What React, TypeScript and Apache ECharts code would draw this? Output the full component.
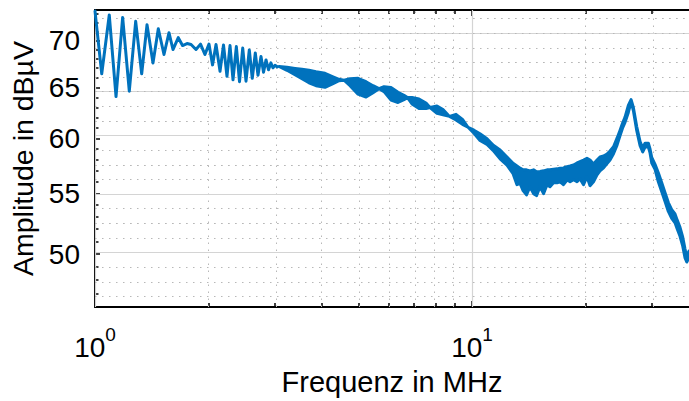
import React, { useEffect, useRef } from "react";
import * as echarts from "echarts";

// ---- data (frequency in MHz, amplitude in dBµV) ----
const lowFreq = [1.0, 1.042, 1.091, 1.137, 1.184, 1.233, 1.282, 1.33, 1.374, 1.425, 1.472, 1.524, 1.571, 1.61, 1.663, 1.707, 1.754, 1.798, 1.853, 1.905, 1.957, 2.006, 2.05, 2.094, 2.146, 2.192, 2.239, 2.281, 2.323, 2.371, 2.417, 2.465, 2.515, 2.566, 2.613, 2.662, 2.706, 2.756, 2.799, 2.842, 2.886, 2.927, 2.966, 3.002, 3.045];
const lowAmp = [73.3, 66.41, 72.86, 64.07, 72.58, 64.62, 72.13, 66.41, 71.74, 67.56, 71.29, 68.46, 70.85, 69.0, 70.3, 69.43, 69.65, 69.54, 69.0, 69.59, 68.46, 69.59, 67.35, 69.54, 66.67, 69.49, 66.15, 69.43, 65.79, 69.32, 65.59, 69.16, 65.64, 68.95, 65.94, 68.62, 66.26, 68.25, 66.57, 67.88, 66.83, 67.56, 67.04, 67.3, 67.14];

const bandFreq = [3.077, 3.23, 3.392, 3.54, 3.694, 3.857, 4.075, 4.279, 4.438, 4.576, 4.747, 4.985, 5.235, 5.463, 5.667, 5.843, 6.097, 6.364, 6.6, 6.743, 6.931, 7.235, 7.551, 7.737, 8.074, 8.377, 8.716, 9.07, 9.435, 9.759, 10.12, 10.5, 10.96, 11.37, 11.87, 12.38, 12.85, 13.16, 13.41, 13.66, 13.95, 14.25, 14.56, 14.83, 15.15, 15.48, 15.81, 16.1, 16.45, 16.81, 17.12, 17.48, 17.87, 18.2, 18.59, 18.99, 19.34, 19.76, 20.18, 20.56, 21.0, 21.46, 21.85, 22.33, 22.81, 23.23, 23.73, 24.25, 24.7, 25.07, 25.46, 25.98, 26.42, 26.79, 27.35, 27.91, 28.37, 28.77, 29.36, 29.66, 29.97, 30.58, 31.2, 31.86, 32.51, 33.17, 33.86, 34.55, 35.04, 35.62, 36.22, 36.73, 37.12, 37.63];
const bandHigh = [67.19, 67.11, 66.98, 66.88, 66.78, 66.62, 66.46, 66.1, 65.84, 65.74, 65.89, 65.94, 65.59, 65.18, 64.87, 65.08, 64.99, 64.5, 64.2, 63.97, 63.97, 63.82, 63.43, 62.98, 63.13, 62.78, 62.1, 62.3, 61.81, 61.05, 60.77, 60.43, 59.96, 59.36, 58.9, 58.26, 57.69, 57.44, 57.24, 57.09, 57.09, 57.0, 57.09, 56.91, 56.94, 57.0, 57.09, 57.09, 57.15, 57.18, 57.24, 57.26, 57.38, 57.44, 57.53, 57.71, 57.83, 57.98, 58.14, 57.98, 57.62, 57.98, 58.26, 58.35, 58.53, 58.81, 59.2, 60.01, 60.77, 61.43, 62.03, 63.18, 63.77, 62.98, 61.1, 59.68, 59.09, 59.54, 59.54, 59.0, 58.21, 57.58, 56.83, 55.94, 55.07, 54.22, 53.63, 53.26, 52.72, 52.15, 51.34, 50.39, 49.77, 50.24];
const bandLow = [67.19, 66.78, 66.31, 65.89, 65.48, 65.18, 65.01, 65.38, 65.69, 65.74, 65.18, 64.32, 64.02, 64.47, 64.87, 64.57, 63.72, 63.48, 63.77, 63.97, 63.33, 62.88, 62.88, 62.98, 62.4, 62.27, 62.1, 61.76, 61.33, 61.05, 60.48, 59.79, 59.41, 58.87, 58.08, 57.51, 56.74, 55.77, 55.88, 55.25, 54.88, 55.59, 54.99, 54.82, 55.59, 54.99, 55.77, 55.59, 55.94, 55.94, 56.03, 55.77, 56.18, 56.03, 56.21, 56.03, 56.3, 55.77, 56.47, 55.68, 56.03, 56.65, 57.0, 57.27, 57.65, 57.98, 58.56, 59.36, 60.26, 60.96, 61.52, 62.49, 63.57, 62.68, 60.72, 59.31, 58.72, 59.18, 59.18, 58.63, 57.71, 57.13, 56.03, 55.16, 54.31, 53.47, 52.89, 52.52, 51.99, 51.42, 50.63, 49.69, 49.38, 49.69];

const xRange = [1, 37.63];
const yRange = [46, 73.43];
const xMajorTicks = [1, 10];
const xMinorTicks = [2, 3, 4, 5, 6, 7, 8, 9, 20, 30];
const yMajorTicks = [50, 55, 60, 65, 70];
const yMinorTicks = [46, 47, 48, 49, 51, 52, 53, 54, 56, 57, 58, 59, 61, 62, 63, 64, 66, 67, 68, 69, 71, 72, 73];

const lg = Math.log10;
const BLUE = "#0072BD";
const FONT = "Liberation Sans, Arial, Helvetica, sans-serif";

export default function App() {
  const ref = useRef<HTMLDivElement>(null);
  useEffect(() => {
    if (!ref.current) return;
    const chart = echarts.init(ref.current, undefined, { renderer: "svg" });
    const xmin = lg(xRange[0]);
    const xmax = lg(xRange[1]);
    const ymin = lg(yRange[0]);
    const ymax = lg(yRange[1]);

    const baseX = {
      type: "value" as const,
      min: xmin,
      max: xmax,
      gridIndex: 0,
      splitLine: { show: false },
      axisPointer: { show: false },
    };
    const baseY = {
      type: "value" as const,
      min: ymin,
      max: ymax,
      gridIndex: 0,
      splitLine: { show: false },
      axisPointer: { show: false },
    };
    const tickStyle = { color: "#000", width: 1.5 };

    const gridLines: any[] = [];
    xMajorTicks.forEach((v) =>
      gridLines.push({ xAxis: lg(v), lineStyle: { color: "#d4d4d4", width: 1.2, type: "solid" } })
    );
    xMinorTicks.forEach((v) =>
      gridLines.push({ xAxis: lg(v), lineStyle: { color: "#b8b8b8", width: 1, type: [1.5, 5.5] } })
    );
    yMajorTicks.forEach((v) =>
      gridLines.push({ yAxis: lg(v), lineStyle: { color: "#d4d4d4", width: 1.2, type: "solid" } })
    );
    yMinorTicks.forEach((v) =>
      gridLines.push({ yAxis: lg(v), lineStyle: { color: "#b8b8b8", width: 1, type: [1.5, 5.5] } })
    );

    const bandData = bandFreq.map((f, i) => [lg(f), lg(bandHigh[i]), lg(bandLow[i])]);

    const option: any = {
      animation: false,
      backgroundColor: "#fff",
      grid: { left: 95, right: 0, top: 10, bottom: 91, containLabel: false },
      xAxis: [
        {
          ...baseX,
          position: "bottom",
          name: "Frequenz in MHz",
          nameLocation: "middle",
          nameGap: 60,
          nameTextStyle: { fontFamily: FONT, fontSize: 29, color: "#000" },
          axisLine: { show: true, lineStyle: { color: "#000", width: 2 } },
          axisTick: { show: true, inside: true, length: 6, customValues: xMajorTicks.map(lg), lineStyle: tickStyle },
          axisLabel: {
            show: true,
            customValues: xMajorTicks.map(lg),
            margin: 18,
            formatter: (v: number) => `{b|10}{s|${Math.round(v)}}`,
            rich: {
              b: { fontFamily: FONT, fontSize: 28, color: "#000", lineHeight: 36, verticalAlign: "bottom" },
              s: { fontFamily: FONT, fontSize: 19, color: "#000", lineHeight: 20, verticalAlign: "top" },
            },
          },
        },
        {
          ...baseX,
          position: "bottom",
          axisLine: { show: false },
          axisLabel: { show: false },
          axisTick: { show: true, inside: true, length: 4, customValues: xMinorTicks.map(lg), lineStyle: tickStyle },
        },
        {
          ...baseX,
          position: "top",
          axisLine: { show: true, lineStyle: { color: "#000", width: 2 } },
          axisLabel: { show: false },
          axisTick: { show: true, inside: true, length: 6, customValues: xMajorTicks.map(lg), lineStyle: tickStyle },
        },
        {
          ...baseX,
          position: "top",
          axisLine: { show: false },
          axisLabel: { show: false },
          axisTick: { show: true, inside: true, length: 4, customValues: xMinorTicks.map(lg), lineStyle: tickStyle },
        },
      ],
      yAxis: [
        {
          ...baseY,
          position: "left",
          name: "Amplitude in dBµV",
          nameLocation: "middle",
          nameGap: 55,
          nameRotate: 90,
          nameTextStyle: { fontFamily: FONT, fontSize: 28.5, color: "#000" },
          axisLine: { show: true, lineStyle: { color: "#000", width: 2 } },
          axisTick: { show: true, inside: true, length: 5, customValues: yMajorTicks.map(lg), lineStyle: tickStyle },
          axisLabel: {
            show: true,
            customValues: yMajorTicks.map(lg),
            margin: 15,
            fontFamily: FONT,
            fontSize: 28,
            color: "#000",
            formatter: (v: number) => String(Math.round(Math.pow(10, v))),
          },
        },
        {
          ...baseY,
          position: "left",
          axisLine: { show: false },
          axisLabel: { show: false },
          axisTick: { show: true, inside: true, length: 3.5, customValues: yMinorTicks.map(lg), lineStyle: tickStyle },
        },
      ],
      series: [
        {
          type: "line",
          xAxisIndex: 0,
          yAxisIndex: 0,
          data: [],
          z: 1,
          silent: true,
          markLine: {
            z: 1,
            silent: true,
            symbol: ["none", "none"],
            label: { show: false },
            animation: false,
            data: gridLines,
          },
        },
        {
          type: "custom",
          xAxisIndex: 0,
          yAxisIndex: 0,
          z: 6,
          silent: true,
          clip: true,
          encode: { x: 0, y: [1, 2] },
          data: bandData,
          renderItem: (params: any, api: any) => {
            if (params.dataIndex !== 0) return null;
            const upper = bandData.map((d) => api.coord([d[0], d[1]]));
            const lower = bandData.map((d) => api.coord([d[0], d[2]])).reverse();
            return {
              type: "polygon",
              shape: { points: upper.concat(lower) },
              style: { fill: BLUE, stroke: BLUE, lineWidth: 3, lineJoin: "round" },
            };
          },
        },
        {
          type: "line",
          xAxisIndex: 0,
          yAxisIndex: 0,
          z: 6,
          symbol: "none",
          silent: true,
          lineStyle: { color: BLUE, width: 3, join: "round", cap: "round" },
          data: lowFreq.map((f, i) => [lg(f), lg(lowAmp[i])]),
        },
      ],
    };
    chart.setOption(option);
    return () => chart.dispose();
  }, []);

  return (
    <div
      ref={ref}
      style={{ position: "fixed", left: 0, top: 0, width: 689, height: 401, background: "#fff" }}
    />
  );
}
